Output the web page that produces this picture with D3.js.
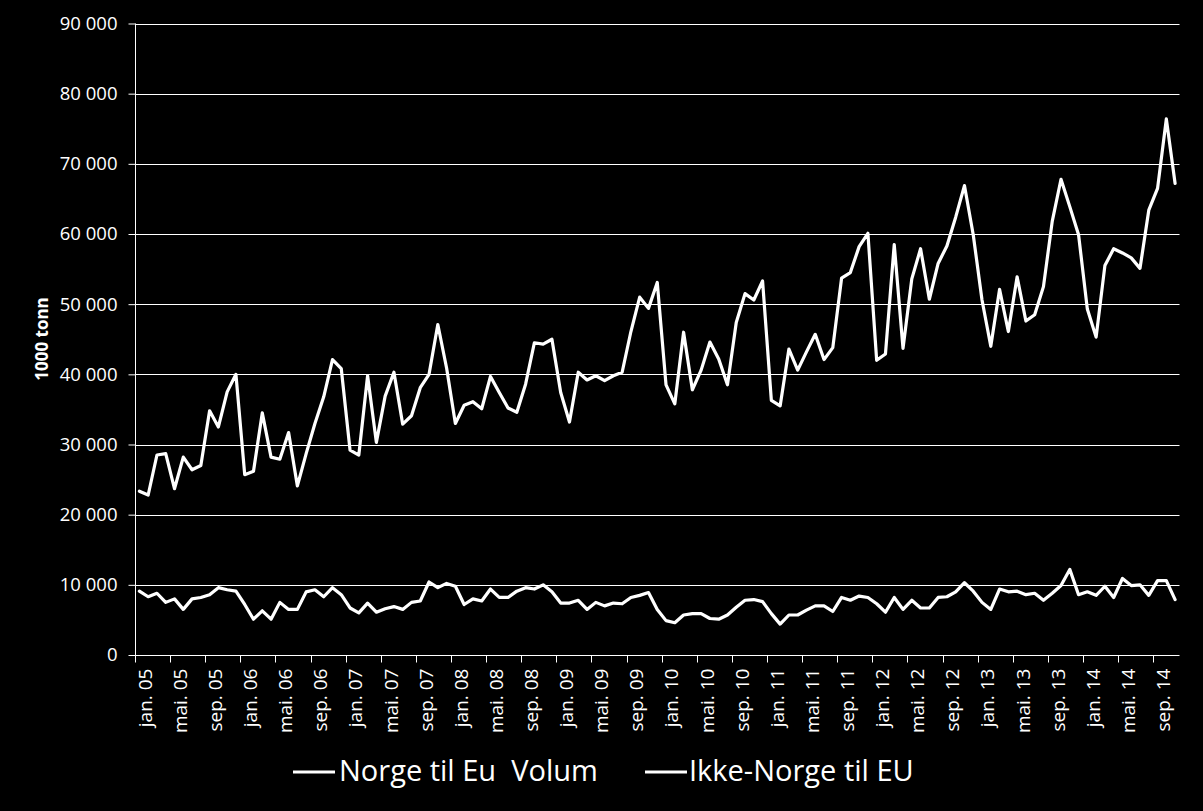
<!DOCTYPE html>
<html>
<head>
<meta charset="utf-8">
<script src="https://cdn.jsdelivr.net/npm/d3@7"></script>
<style>
  html, body { margin: 0; padding: 0; background: #000; }
  svg { display: block; }
</style>
</head>
<body>
<svg id="chart" width="1203" height="811"></svg>
<script>
// ---- Data ----
const monthNames = ["jan.", "feb.", "mar.", "apr.", "mai.", "jun.", "jul.", "aug.", "sep.", "okt.", "nov.", "des."];
const years = ["05", "06", "07", "08", "09", "10", "11", "12", "13", "14"];
const monthCount = 119; // jan. 05 – nov. 14

const seriesNames = ["Norge til Eu  Volum", "Ikke-Norge til EU"];

const norgeTilEu = [
  23350, 22800, 28500, 28700, 23700, 28200, 26400, 27000, 34800, 32500, 37500, 40000,
  25700, 26200, 34500, 28200, 27900, 31700, 24100, 28700, 33000, 36800, 42100, 40800,
  29200, 28500, 39800, 30300, 36900, 40300, 32900, 34100, 38100, 40000, 47100, 40900,
  33000, 35600, 36100, 35100, 39700, 37400, 35200, 34600, 38600, 44500, 44300, 45000,
  37400, 33200, 40300, 39200, 39800, 39100, 39800, 40300, 46100, 51000, 49400, 53100,
  38500, 35800, 46000, 37800, 40600, 44600, 42200, 38500, 47400, 51500, 50600, 53300,
  36300, 35500, 43600, 40600, 43200, 45700, 42100, 43800, 53700, 54500, 58200, 60100,
  42000, 42900, 58500, 43700, 53600, 57900, 50700, 55800, 58300, 62400, 66900, 59900,
  50600, 44000, 52100, 46100, 53900, 47600, 48500, 52500, 61800, 67800, 63900, 59900,
  49300, 45300, 55500, 57900, 57300, 56600, 55100, 63400, 66500, 76400, 67200
];

const ikkeNorgeTilEu = [
  9100, 8300, 8800, 7500, 8000, 6500, 8000, 8200, 8600, 9600, 9300, 9100,
  7200, 5100, 6300, 5100, 7500, 6500, 6500, 9000, 9300, 8300, 9600, 8600,
  6700, 6000, 7400, 6100, 6600, 6900, 6500, 7500, 7700, 10400, 9600, 10200,
  9800, 7200, 8000, 7700, 9400, 8200, 8200, 9100, 9600, 9400, 10000, 9000,
  7400, 7400, 7800, 6500, 7500, 7000, 7400, 7300, 8200, 8500, 8900, 6500,
  4900, 4600, 5700, 5900, 5900, 5200, 5100, 5700, 6800, 7800, 7900, 7600,
  5900, 4400, 5700, 5700, 6400, 7000, 7000, 6200, 8200, 7800, 8400, 8200,
  7300, 6100, 8200, 6500, 7800, 6700, 6700, 8200, 8300, 9000, 10300, 9100,
  7500, 6500, 9400, 9000, 9100, 8600, 8800, 7800, 8800, 9900, 12200, 8600,
  9000, 8500, 9800, 8200, 10900, 9900, 10000, 8500, 10600, 10600, 7900
];

const yTickValues = [0, 10000, 20000, 30000, 40000, 50000, 60000, 70000, 80000, 90000];
const yTickLabels = ["0", "10 000", "20 000", "30 000", "40 000", "50 000", "60 000", "70 000", "80 000", "90 000"];
const yAxisTitle = "1000 tonn";

// categories built from month names and years
const categories = [];
for (let i = 0; i < monthCount; i++) {
  categories.push(monthNames[i % 12] + " " + years[Math.floor(i / 12)]);
}

// ---- Layout ----
const margin = { left: 135, right: 1179.5, top: 23.5, bottom: 655 };
const FONT = "'Open Sans', 'Liberation Sans', sans-serif";

const svg = d3.select("#chart");
svg.append("rect").attr("width", 1203).attr("height", 811).attr("fill", "#000");

const x = d3.scaleBand()
  .domain(categories)
  .range([margin.left, margin.right])
  .paddingInner(0).paddingOuter(0);

const y = d3.scaleLinear()
  .domain([0, 90000])
  .range([margin.bottom, margin.top]);

// gridlines
svg.append("g")
  .selectAll("line")
  .data(yTickValues.filter(v => v > 0))
  .join("line")
  .attr("x1", margin.left).attr("x2", margin.right)
  .attr("y1", d => Math.round(y(d)) + 0.5).attr("y2", d => Math.round(y(d)) + 0.5)
  .attr("stroke", "#fff").attr("stroke-width", 1);

// y axis
const yAxis = d3.axisLeft(y)
  .tickValues(yTickValues)
  .tickSize(7)
  .tickPadding(11)
  .tickFormat((d, i) => yTickLabels[i]);

const yG = svg.append("g")
  .attr("transform", `translate(${margin.left + 0.5},0)`)
  .call(yAxis);
yG.select(".domain").attr("stroke", "#fff").attr("d", `M0,${margin.top}V${margin.bottom}`);
yG.selectAll(".tick line").attr("stroke", "#fff");
yG.selectAll(".tick text")
  .attr("fill", "#fff")
  .style("font-family", FONT)
  .style("font-size", "18.5px");

// x axis
const tickCats = categories.filter((c, i) => i % 4 === 0);
const xAxis = d3.axisBottom(x)
  .tickValues(tickCats)
  .tickSize(0)
  .tickFormat(d => d);

const xG = svg.append("g")
  .attr("transform", `translate(0,${margin.bottom + 0.5})`)
  .call(xAxis);
xG.select(".domain").attr("stroke", "#fff").attr("d", `M${margin.left},0H${margin.right}`);
// tick marks at category boundaries
xG.selectAll(".boundary")
  .data(tickCats)
  .join("line")
  .attr("class", "boundary")
  .attr("x1", d => Math.round(x(d)) + 0.5).attr("x2", d => Math.round(x(d)) + 0.5)
  .attr("y1", 0).attr("y2", 7)
  .attr("stroke", "#fff");
xG.selectAll(".tick text")
  .attr("fill", "#fff")
  .style("font-family", FONT)
  .style("font-size", "19px")
  .attr("text-anchor", "end")
  .attr("dominant-baseline", "central")
  .attr("transform", "translate(" + (x.bandwidth() / 2 + 1) + ",13) rotate(-90)")
  .attr("x", 0).attr("y", 0).attr("dy", null);

// y axis title
svg.append("text")
  .attr("transform", "translate(41,339) rotate(-90)")
  .attr("text-anchor", "middle")
  .attr("dominant-baseline", "central")
  .attr("fill", "#fff")
  .style("font-family", FONT)
  .style("font-weight", "bold")
  .style("font-size", "17px")
  .text(yAxisTitle);

// lines
const line = d3.line()
  .x((d, i) => x(categories[i]) + x.bandwidth() / 2)
  .y(d => y(d))
  .curve(d3.curveLinear);

[norgeTilEu, ikkeNorgeTilEu].forEach(s => {
  svg.append("path")
    .datum(s)
    .attr("d", line)
    .attr("fill", "none")
    .attr("stroke", "#fff")
    .attr("stroke-width", 3.2)
    .attr("stroke-linejoin", "round")
    .attr("stroke-linecap", "round");
});

// legend
const legendItems = [
  { name: seriesNames[0], x1: 293, x2: 335, tx: 339 },
  { name: seriesNames[1], x1: 645, x2: 687, tx: 689 }
];
const lg = svg.append("g");
legendItems.forEach(it => {
  lg.append("line")
    .attr("x1", it.x1).attr("x2", it.x2)
    .attr("y1", 772).attr("y2", 772)
    .attr("stroke", "#fff").attr("stroke-width", 3.2);
  lg.append("text")
    .attr("x", it.tx).attr("y", 781)
    .attr("fill", "#fff")
    .style("font-family", FONT)
    .style("font-size", "29px")
    .style("white-space", "pre")
    .attr("xml:space", "preserve")
    .text(it.name);
});
</script>
</body>
</html>
